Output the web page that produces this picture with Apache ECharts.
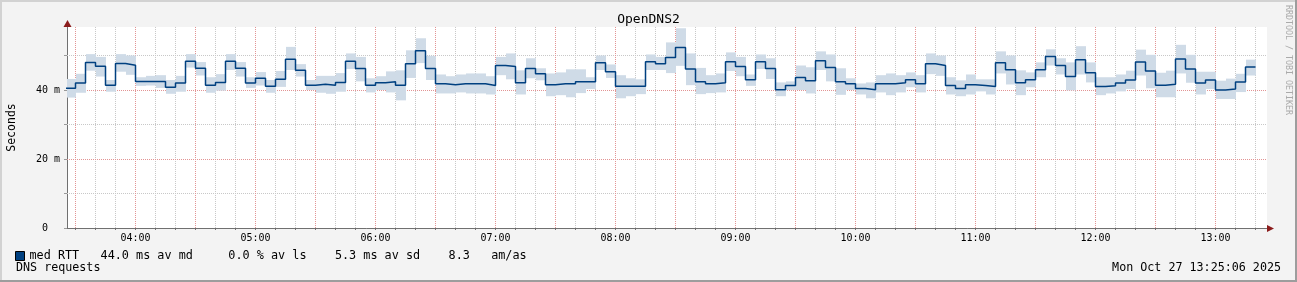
<!DOCTYPE html>
<html>
<head>
<meta charset="utf-8">
<script src="https://cdn.jsdelivr.net/npm/echarts@6/dist/echarts.min.js"></script>
<style>
  html, body { margin: 0; padding: 0; background: #f3f3f3; }
  #c { width: 1297px; height: 282px; position: absolute; left: 0; top: 0; }
</style>
</head>
<body>
<div id="c"></div>
<script>
// ---- data (5-minute steps, value = median RTT in ms) ----
const chartTitle = 'OpenDNS2';
const axisStart = '03:25';          // left edge of the time axis (plus 45 s)
const firstStepEnd = '03:30';       // end of the first 5-minute step
const stepMinutes = 5;
const hourLabels = ['04:00','05:00','06:00','07:00','08:00','09:00','10:00','11:00','12:00','13:00'];
const yLabelValues = [0, 20, 40];

const median = [
  40.5,42.0,48.0,46.9,41.4,47.7,47.2,42.5,42.5,42.5,
  40.8,42.0,48.3,46.3,41.4,42.2,48.3,46.3,42.0,43.4,
  41.1,43.1,48.9,45.7,41.4,41.7,41.4,42.2,48.3,46.2,
  41.4,42.1,42.4,41.4,47.6,51.4,46.2,41.8,41.5,41.8,
  41.8,41.8,41.3,47.1,46.8,42.1,46.2,44.7,41.5,41.8,
  41.8,42.4,42.4,47.9,45.3,41.1,41.1,41.1,48.2,47.6,
  49.4,52.3,46.1,42.4,41.8,42.1,48.2,46.8,43.0,48.2,
  46.2,40.1,41.3,43.6,42.7,48.5,46.5,42.4,41.8,40.4,
  40.1,41.8,41.8,42.1,43.0,41.8,47.6,47.1,41.3,40.4,
  41.5,41.3,41.0,47.9,45.9,42.1,43.0,45.9,49.7,47.1,
  43.9,48.8,45.0,41.0,41.2,42.0,42.9,48.1,45.5,41.4,
  41.7,49.0,46.1,42.0,42.9,40.0,40.3,42.3,46.7
];
const smokeLow = [
  37.8,39.2,45.6,43.9,39.5,45.3,44.4,41.2,41.3,40.6,
  38.9,39.5,46.5,44.2,39.2,39.8,45.8,43.9,40.6,41.3,
  39.2,40.9,45.8,43.9,40.0,39.2,38.9,39.5,46.1,42.5,
  39.3,40.0,39.3,37.0,43.5,47.8,42.9,39.0,39.0,39.3,
  39.0,39.0,38.7,44.3,43.1,38.7,43.4,42.8,38.2,38.5,
  37.9,39.1,40.3,45.8,43.5,37.6,38.2,38.8,45.8,45.8,
  44.9,47.0,41.4,38.8,39.1,39.3,45.5,44.0,41.2,46.1,
  43.2,38.2,40.0,40.0,39.0,45.8,42.5,38.6,40.0,38.7,
  37.6,39.3,38.5,39.3,40.8,39.3,44.6,44.1,38.7,38.2,
  38.7,39.6,38.7,44.8,41.6,38.5,40.8,43.7,47.1,44.5,
  39.9,44.5,42.2,38.5,39.0,39.6,40.3,44.2,40.5,37.9,
  37.9,44.8,42.1,38.7,40.3,37.4,37.4,39.4,44.2
];
const smokeHigh = [
  43.2,44.7,50.4,49.6,42.9,50.4,50.0,43.7,44.1,44.3,
  42.9,44.1,50.4,48.1,43.7,44.6,50.4,48.1,43.7,45.2,
  42.9,45.5,52.5,47.5,42.9,44.1,44.1,44.9,50.6,49.6,
  43.4,44.0,45.4,45.7,51.5,55.0,49.9,44.5,44.0,44.5,
  44.8,44.8,44.0,49.6,50.6,45.7,49.2,46.3,44.8,45.1,
  46.0,46.0,43.7,50.0,47.4,44.3,43.4,43.1,50.3,49.6,
  53.8,57.9,50.6,46.4,44.3,44.8,50.9,49.6,44.5,50.3,
  49.2,42.2,42.5,47.1,46.6,51.2,50.3,46.3,43.4,41.9,
  42.2,44.3,44.8,44.3,45.1,44.3,50.6,50.0,43.7,42.8,
  44.5,43.1,43.1,51.2,50.0,45.7,45.1,48.0,51.8,49.2,
  48.0,52.7,48.0,43.7,43.7,44.5,45.6,51.7,50.2,45.0,
  45.6,53.1,50.2,45.3,45.3,42.7,43.3,44.7,48.8
];

const legendName = 'med RTT';
const legendStats = ['44.0 ms av md', '0.0 % av ls', '5.3 ms av sd', '8.3', 'am/as'];
const footerLeft = 'DNS requests';
const footerRight = 'Mon Oct 27 13:25:06 2025';
const watermark = 'RRDTOOL / TOBI OETIKER';

// ---- helpers ----
function toMin(s) { const p = s.split(':').map(Number); return p[0] * 60 + p[1]; }
function fmtTime(v) {
  const h = Math.floor(v / 60), m = Math.round(v - h * 60);
  return String(h).padStart(2, '0') + ':' + String(m).padStart(2, '0');
}
const xMin = toMin(axisStart) + 45 / 60;
const xMax = xMin + 600;
const t0 = toMin(firstStepEnd);
const stepEnds = median.map((_, i) => t0 + i * stepMinutes);
const anchor = t0 - stepMinutes;

const medData = [[anchor, median[0]]].concat(stepEnds.map((x, i) => [x, median[i]]));
// smoke band: [stepStart, stepEnd, low, high]
const smokeData = stepEnds.map((x, i) => [x - stepMinutes, x, smokeLow[i], smokeHigh[i]]);

// grid lines: 10-minute minor, 30-minute major, y every 10 ms (20 ms major)
const gridMajorX = [], gridMinorX = [], gridAllX = [];
for (let v = Math.ceil(xMin / 10) * 10; v < xMax; v += 10) {
  gridAllX.push(v);
  if (v % 30 === 0) gridMajorX.push(v); else gridMinorX.push(v);
}
const gridMajorY = [20, 40];
const gridMinorY = [10, 30, 50];
const hourValues = hourLabels.map(toMin);

const FONT = 'DejaVu Sans Mono';
const RED = '#e29494';
const GRAY = '#c8c8c8';
const minorMarks = gridMinorX.map(v => ({ xAxis: v })).concat(gridMinorY.map(v => ({ yAxis: v })));
const majorMarks = gridMajorX.map(v => ({ xAxis: v })).concat(gridMajorY.map(v => ({ yAxis: v })));

function gridSeries(name, marks, color) {
  return {
    name: name, type: 'line', data: medData, showSymbol: false, symbol: 'none',
    silent: true, z: 1, color: color,
    lineStyle: { width: 0, opacity: 0 },
    markLine: {
      silent: true, symbol: ['none', 'none'], z: 1, animation: false,
      label: { show: false },
      lineStyle: { type: [1, 1], width: 1, color: color, opacity: 1 },
      data: marks
    }
  };
}

const chart = echarts.init(document.getElementById('c'), null, { renderer: 'canvas' });
chart.setOption({
  animation: false,
  backgroundColor: '#f3f3f3',
  title: {
    text: chartTitle, left: 'center', top: 8,
    textStyle: { fontFamily: FONT, fontSize: 13, fontWeight: 'normal', color: '#000' }
  },
  grid: {
    left: 67, right: 30, top: 27, bottom: 54,
    containLabel: false, outerBoundsMode: 'none',
    show: true, backgroundColor: '#ffffff', borderWidth: 0
  },
  legend: {
    left: 15, top: 250, padding: 0, itemWidth: 9, itemHeight: 9,
    selectedMode: false,
    data: [{ name: legendName, icon: 'rect',
      itemStyle: { color: '#004080', borderColor: '#000', borderWidth: 1 } }],
    formatter: name => name + '   ' + legendStats[0] + '     ' + legendStats[1] + '    ' +
      legendStats[2] + '    ' + legendStats[3] + '   ' + legendStats[4],
    textStyle: { fontFamily: FONT, fontSize: 11.8, color: '#000' }
  },
  xAxis: {
    type: 'value', min: xMin, max: xMax,
    axisLine: { show: true, lineStyle: { color: '#707070', width: 1 } },
    axisTick: { show: true, length: 2, customValues: gridAllX, lineStyle: { color: '#707070' } },
    axisLabel: {
      customValues: hourValues, margin: 5,
      formatter: v => fmtTime(v),
      fontFamily: FONT, fontSize: 10, color: '#000'
    },
    splitLine: { show: false }
  },
  yAxis: {
    type: 'value', min: 0, max: 201 / 3.45,
    name: 'Seconds', nameLocation: 'middle', nameGap: 49,
    nameTextStyle: { fontFamily: FONT, fontSize: 11.5, color: '#000' },
    axisLine: { show: true, lineStyle: { color: '#707070', width: 1 } },
    axisTick: { show: true, length: 3, customValues: [0, 10, 20, 30, 40, 50], lineStyle: { color: '#999' } },
    axisLabel: {
      customValues: yLabelValues, margin: 7,
      formatter: v => (v === 0 ? '0  ' : v + ' m'),
      fontFamily: FONT, fontSize: 10, color: '#000'
    },
    splitLine: { show: false }
  },
  series: [
    gridSeries('gridMinor', minorMarks, GRAY),
    gridSeries('gridMajor', majorMarks, RED),
    {
      name: 'smoke', type: 'custom', silent: true, z: 2,
      data: smokeData,
      encode: { x: [0, 1], y: [2, 3] },
      renderItem: function (params, api) {
        const a = api.coord([api.value(0), api.value(3)]);
        const b = api.coord([api.value(1), api.value(2)]);
        const left = params.coordSys.x;
        const x0 = Math.max(Math.round(a[0]), left);
        const x1 = Math.round(b[0]);
        return {
          type: 'rect',
          shape: { x: x0, y: a[1], width: x1 - x0, height: b[1] - a[1] },
          style: { fill: '#cfdbe7' }
        };
      }
    },
    {
      name: legendName, type: 'line', step: 'start',
      data: medData, showSymbol: false, symbol: 'none',
      color: '#004080',
      lineStyle: { color: '#004080', width: 1.5 }, z: 3
    }
  ],
  graphic: [
    // axis arrows
    { type: 'polygon', silent: true, z: 10, shape: { points: [[1267, 225], [1274, 228.5], [1267, 232]] }, style: { fill: '#8b1c1c' } },
    { type: 'polygon', silent: true, z: 10, shape: { points: [[63.5, 27], [67.5, 20], [71.5, 27]] }, style: { fill: '#8b1c1c' } },
    // footer texts
    { type: 'text', silent: true, x: 16, y: 268,
      style: { text: footerLeft, fontFamily: FONT, fontSize: 11.7, fill: '#000', textAlign: 'left', textVerticalAlign: 'middle' } },
    { type: 'text', silent: true, x: 1281, y: 268,
      style: { text: footerRight, fontFamily: FONT, fontSize: 11.7, fill: '#000', textAlign: 'right', textVerticalAlign: 'middle' } },
    // watermark
    { type: 'text', silent: true, x: 1288, y: 5, rotation: -Math.PI / 2,
      style: { text: watermark, fontFamily: FONT, fontSize: 8.3, fill: '#aaaaaa', textAlign: 'left', textVerticalAlign: 'middle' } },
    // frame
    { type: 'rect', silent: true, z: 20, shape: { x: 0, y: 0, width: 1297, height: 2 }, style: { fill: '#d2d2d2' } },
    { type: 'rect', silent: true, z: 20, shape: { x: 0, y: 0, width: 2, height: 282 }, style: { fill: '#d2d2d2' } },
    { type: 'rect', silent: true, z: 21, shape: { x: 0, y: 280, width: 1297, height: 2 }, style: { fill: '#9d9d9d' } },
    { type: 'rect', silent: true, z: 21, shape: { x: 1295, y: 0, width: 2, height: 282 }, style: { fill: '#9d9d9d' } }
  ]
});
</script>
</body>
</html>
